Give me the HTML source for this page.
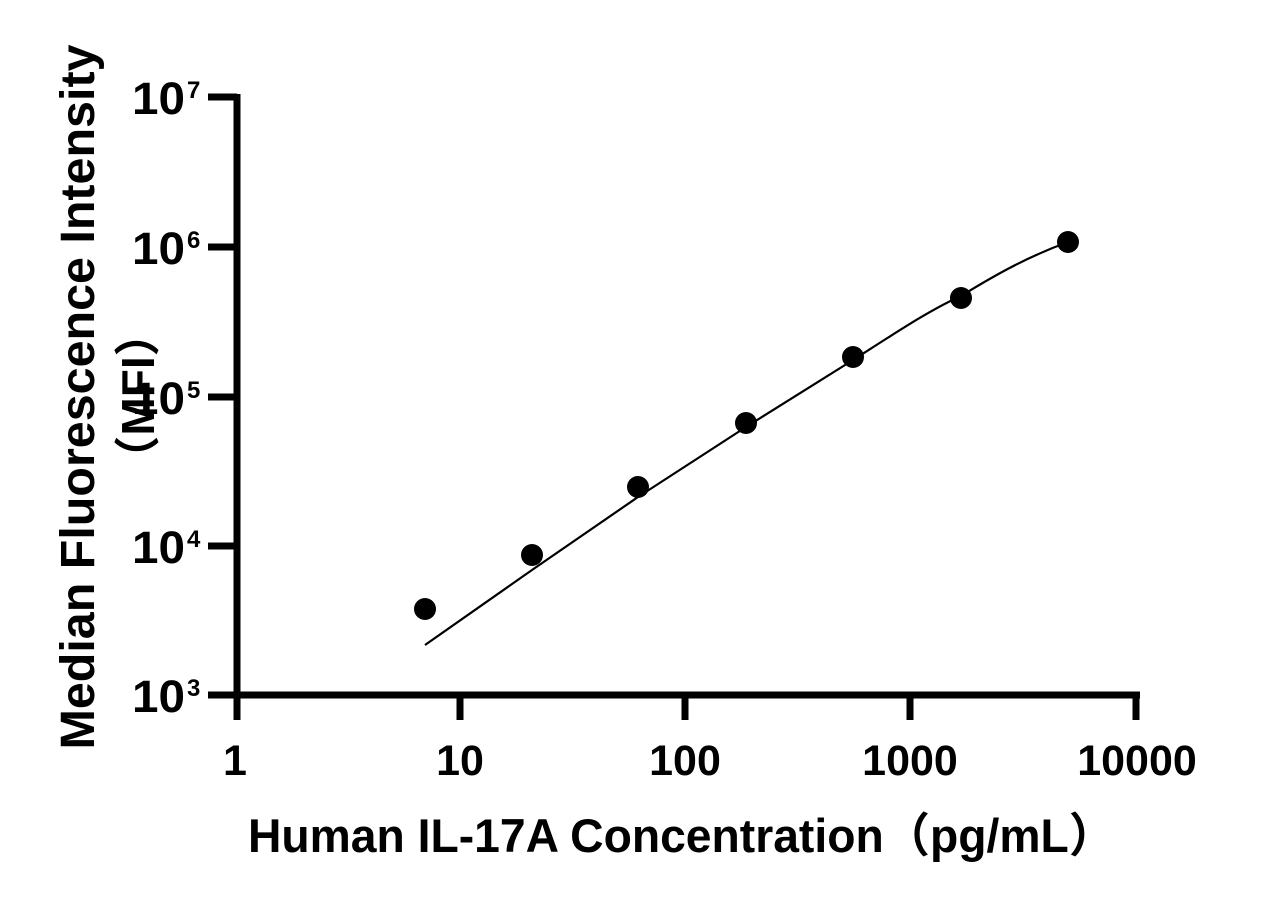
<!DOCTYPE html>
<html><head><meta charset="utf-8"><style>
html,body{margin:0;padding:0;background:#fff;}
svg{display:block;font-family:"Liberation Sans","Noto Sans CJK SC",sans-serif;font-weight:bold;}
</style></head><body>
<svg width="1275" height="907" viewBox="0 0 1275 907">
<g stroke="#000" stroke-width="7" fill="none" stroke-linecap="butt">
<line x1="237" y1="94" x2="237" y2="720"/>
<line x1="233" y1="695" x2="1140" y2="695"/>
<line x1="208" y1="97" x2="237" y2="97"/>
<line x1="208" y1="247" x2="237" y2="247"/>
<line x1="208" y1="397" x2="237" y2="397"/>
<line x1="208" y1="546" x2="237" y2="546"/>
<line x1="208" y1="695" x2="237" y2="695"/>
<line x1="460" y1="695" x2="460" y2="720"/>
<line x1="685" y1="695" x2="685" y2="720"/>
<line x1="910" y1="695" x2="910" y2="720"/>
<line x1="1136" y1="695" x2="1136" y2="720"/>
</g>
<g font-size="45" text-anchor="start">
<text x="132" y="114" textLength="53" lengthAdjust="spacingAndGlyphs">10</text><text x="187" y="98" font-size="24">7</text>
<text x="132" y="264" textLength="53" lengthAdjust="spacingAndGlyphs">10</text><text x="187" y="248" font-size="24">6</text>
<text x="132" y="414" textLength="53" lengthAdjust="spacingAndGlyphs">10</text><text x="187" y="398" font-size="24">5</text>
<text x="132" y="563" textLength="53" lengthAdjust="spacingAndGlyphs">10</text><text x="187" y="547" font-size="24">4</text>
<text x="132" y="712" textLength="53" lengthAdjust="spacingAndGlyphs">10</text><text x="187" y="696" font-size="24">3</text>
</g>
<g font-size="43" text-anchor="middle">
<text x="235" y="775">1</text>
<text x="460" y="775">10</text>
<text x="685" y="775">100</text>
<text x="910" y="775">1000</text>
<text x="1137" y="775">10000</text>
</g>
<text x="248" y="852" font-size="47" textLength="867" lengthAdjust="spacingAndGlyphs">Human IL-17A Concentration（pg/mL）</text>
<text transform="translate(94,397) rotate(-90)" font-size="48" text-anchor="middle" textLength="705" lengthAdjust="spacingAndGlyphs">Median Fluorescence Intensity</text>
<text transform="translate(154,396) rotate(-90)" font-size="46" text-anchor="middle">（MFI）</text>
<path d="M425,645 L532,570 L638,497 L746,427 L853,360 C900,330 930,310 961,296 C1000,272 1030,256 1068,242" stroke="#000" stroke-width="2.2" fill="none"/>
<g fill="#000">
<circle cx="425" cy="609" r="11"/>
<circle cx="532" cy="555" r="11"/>
<circle cx="638" cy="487" r="11"/>
<circle cx="746" cy="423" r="11"/>
<circle cx="853" cy="357" r="11"/>
<circle cx="961" cy="298" r="11"/>
<circle cx="1068" cy="242" r="11"/>
</g>
</svg>
</body></html>
